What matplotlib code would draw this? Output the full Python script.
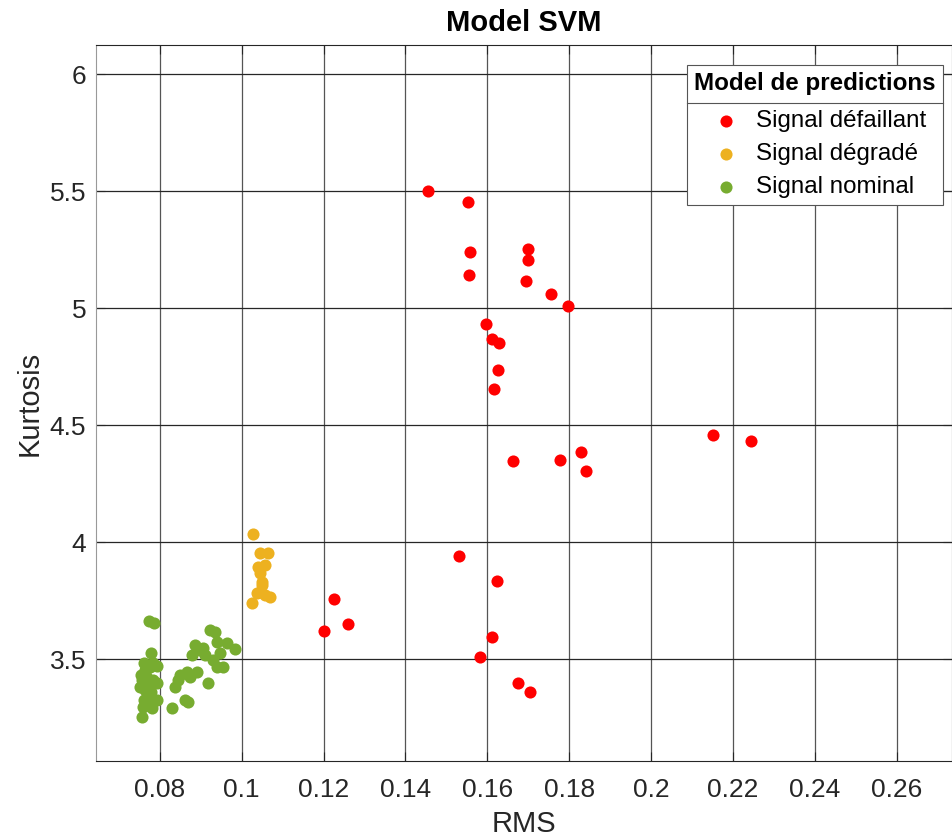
import matplotlib
matplotlib.use("Agg")
import matplotlib.pyplot as plt
from matplotlib.lines import Line2D
from matplotlib.ticker import FuncFormatter

plt.rcParams['font.family'] = ['Liberation Sans', 'DejaVu Sans']

# RMS / Kurtosis for each predicted class
rms_defaillant = [0.1454, 0.1553, 0.1558, 0.1555, 0.1699, 0.1699, 0.1695, 0.1755, 0.1796,
                  0.1596, 0.1611, 0.1629, 0.1625, 0.1616, 0.2151, 0.2244, 0.1662, 0.1777,
                  0.1828, 0.1842, 0.1531, 0.1623, 0.1225, 0.1201, 0.1260, 0.1611, 0.1583,
                  0.1676, 0.1704]
kurt_defaillant = [5.500, 5.453, 5.241, 5.143, 5.254, 5.207, 5.115, 5.062, 5.009,
                   4.931, 4.867, 4.852, 4.736, 4.656, 4.458, 4.432, 4.347, 4.351,
                   4.386, 4.303, 3.943, 3.836, 3.758, 3.622, 3.651, 3.595, 3.509,
                   3.397, 3.359]

rms_degrade = [0.1029, 0.1045, 0.1065, 0.1041, 0.1057, 0.1045, 0.1049, 0.1049, 0.1037,
               0.1057, 0.1069, 0.1025, 0.1045]
kurt_degrade = [4.035, 3.953, 3.953, 3.896, 3.903, 3.869, 3.831, 3.817, 3.782,
                3.775, 3.765, 3.742, 3.789]

rms_nominal = [0.0774, 0.0786, 0.0779, 0.0762, 0.0784, 0.0793, 0.0764, 0.0776, 0.0757,
               0.0784, 0.0793, 0.0752, 0.0764, 0.0771, 0.0769, 0.0784, 0.0793, 0.0759,
               0.0781, 0.0757, 0.0754, 0.0767, 0.0779, 0.0762,
               0.0923, 0.0935, 0.0886, 0.0906, 0.0940, 0.0964, 0.0984, 0.0879, 0.0911,
               0.0947, 0.0940, 0.0955, 0.0867, 0.0891, 0.0850, 0.0845, 0.0837, 0.0918,
               0.0862, 0.0869, 0.0830, 0.0898, 0.0874, 0.0930]
kurt_nominal = [3.664, 3.655, 3.527, 3.484, 3.484, 3.471, 3.454, 3.467, 3.411,
                3.411, 3.398, 3.381, 3.369, 3.390, 3.339, 3.326, 3.326, 3.296,
                3.292, 3.254, 3.433, 3.429, 3.360, 3.326,
                3.625, 3.617, 3.561, 3.548, 3.574, 3.570, 3.544, 3.518, 3.518,
                3.527, 3.467, 3.467, 3.446, 3.446, 3.433, 3.411, 3.381, 3.398,
                3.326, 3.318, 3.292, 3.540, 3.424, 3.497]

labels = ['Signal défaillant', 'Signal dégradé', 'Signal nominal']
colors = ['#ff0000', '#edb120', '#77ac30']
xticks = [0.08, 0.1, 0.12, 0.14, 0.16, 0.18, 0.2, 0.22, 0.24, 0.26]
yticks = [3.5, 4, 4.5, 5, 5.5, 6]

fig = plt.figure(figsize=(9.52, 8.4), dpi=100)
ax = fig.add_axes([0.1008, 0.094, 0.8992, 0.8524])

ax.scatter(rms_defaillant, kurt_defaillant, s=76, color=colors[0], linewidths=0, label=labels[0], zorder=3)
ax.scatter(rms_degrade, kurt_degrade, s=76, color=colors[1], linewidths=0, label=labels[1], zorder=3)
ax.scatter(rms_nominal, kurt_nominal, s=76, color=colors[2], linewidths=0, label=labels[2], zorder=3)

ax.set_xlim(0.06445, 0.27343)
ax.set_ylim(3.0656, 6.124)
ax.set_xticks(xticks)
ax.set_yticks(yticks)
ax.xaxis.set_major_formatter(FuncFormatter(lambda v, p: '%g' % v))
ax.yaxis.set_major_formatter(FuncFormatter(lambda v, p: '%g' % v))

ax.grid(True, axis='x', color='#555555', linewidth=0.9)
ax.grid(True, axis='y', color='#262626', linewidth=0.9)
ax.set_axisbelow(True)

ax.tick_params(axis='both', direction='in', length=6.5, width=0.8, colors='#262626',
               labelsize=19, top=True, right=True)
ax.tick_params(axis='x', pad=12.3)
ax.tick_params(axis='y', pad=7)
for side in ['left', 'bottom', 'top', 'right']:
    ax.spines[side].set_color('#262626')
    ax.spines[side].set_linewidth(0.8)
ax.spines['left'].set_color('#999999')

ax.set_xlabel('RMS', fontsize=21, color='#262626', labelpad=6)
ax.set_ylabel('Kurtosis', fontsize=21, color='#262626', labelpad=4.5)
ax.set_title('Model SVM', fontsize=21, fontweight='bold', pad=10)

leg = ax.legend(title='Model de predictions', loc='upper right',
                bbox_to_anchor=(943 / 952, 1 - 65 / 840), bbox_transform=fig.transFigure,
                borderaxespad=0, fontsize=17.4, title_fontproperties={'weight': 'bold', 'size': 17.4},
                fancybox=False, framealpha=1, edgecolor='#555555', borderpad=0.3,
                handlelength=2.6, handletextpad=-0.05, labelspacing=0.45, scatterpoints=1,
                alignment='left')
leg.get_frame().set_linewidth(0.8)
leg._legend_box.sep += 3  # a bit more room under the title

# line under the legend title
fig.canvas.draw()
bb = leg.get_frame().get_window_extent()
tb = leg.get_title().get_window_extent()
first = leg.get_texts()[0].get_window_extent()
ysep = (tb.y0 + first.y1) / 2
inv = fig.transFigure.inverted()
(x0, y0), (x1, y1) = inv.transform([(bb.x0, ysep), (bb.x1, ysep)])
fig.add_artist(Line2D([x0, x1], [y0, y1], color='#555555', linewidth=0.8))

fig.savefig('out.png', dpi=100)
